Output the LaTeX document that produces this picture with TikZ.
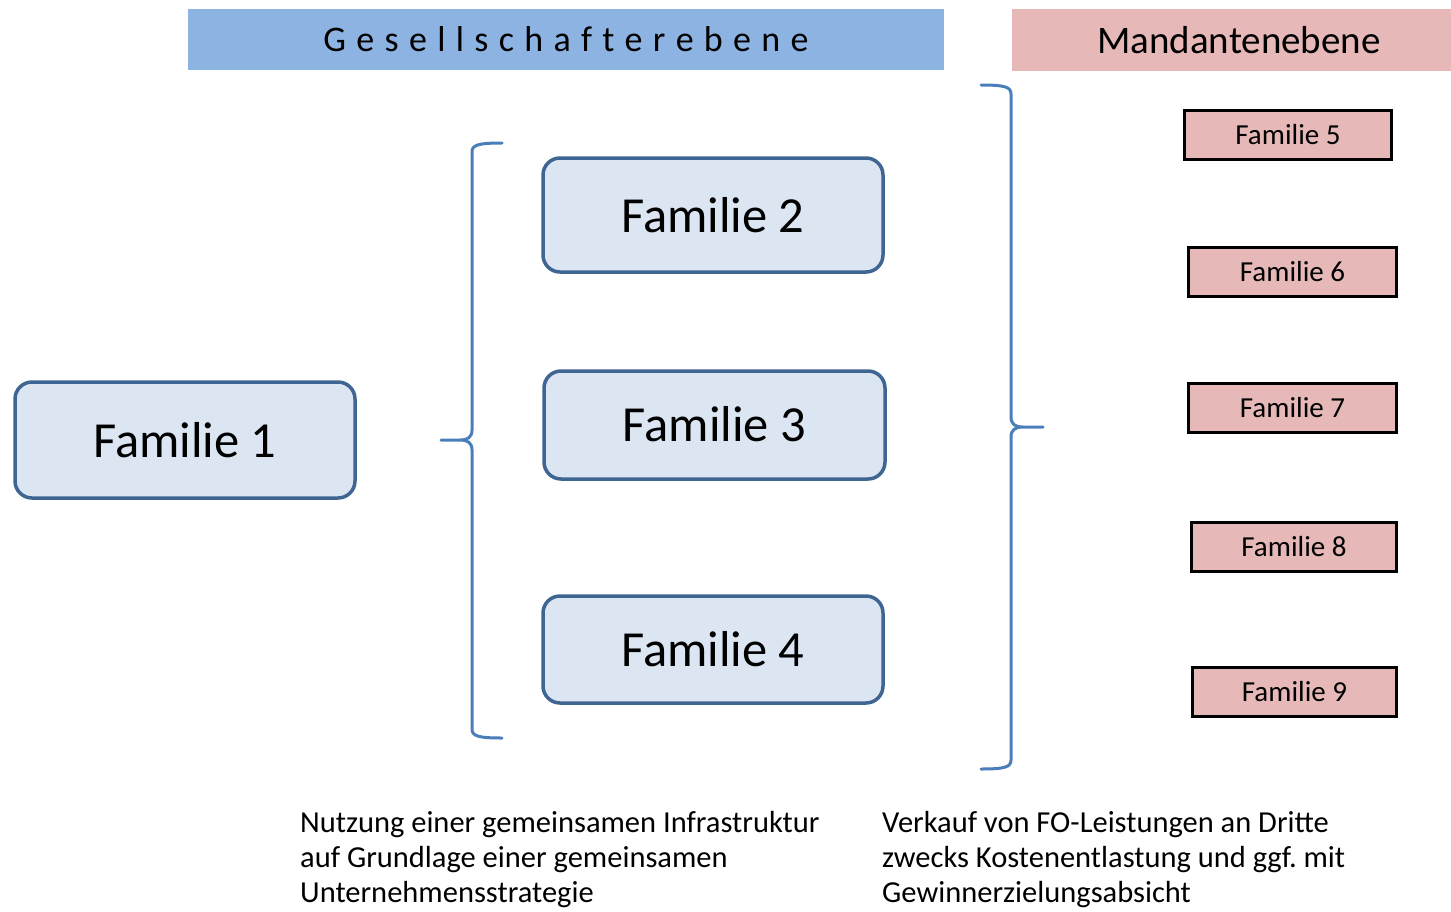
\documentclass[tikz,border=0pt]{standalone}
\usepackage{fontspec}
\setmainfont{Carlito}
\definecolor{headblue}{HTML}{8DB3E2}
\definecolor{headpink}{HTML}{E6B9B8}
\definecolor{boxfill}{HTML}{DCE6F2}
\definecolor{boxline}{HTML}{3F6592}
\definecolor{bracecol}{HTML}{4A7EBB}
\newcommand\lsp{\kern10.3pt}
\frenchspacing
\begin{document}
\begin{tikzpicture}[x=1pt,y=-1pt,
  bigbox/.style={draw=boxline, line width=3.5pt, fill=boxfill, rounded corners=17pt,
    minimum width=340pt, font=\fontsize{50.5}{60}\selectfont, inner sep=0pt},
  smallbox/.style={draw=black, line width=2.8pt, fill=headpink,
    minimum width=207pt, minimum height=49pt, font=\fontsize{29}{34}\selectfont, inner sep=0pt},
  bracepath/.style={draw=bracecol, line width=3pt, line cap=round, line join=round},
  note/.style={anchor=north west, align=left, inner sep=0pt,
    font=\fontsize{30.5}{35}\selectfont}]
\useasboundingbox (0,0) rectangle (1451,911);
% headers
\node[fill=headblue, minimum width=756pt, minimum height=61pt, inner sep=0pt,
  font=\fontsize{36}{40}\selectfont] (gesell) at (566,39.5)
  {G\lsp e\lsp s\lsp e\lsp l\lsp l\lsp s\lsp c\lsp h\lsp a\lsp f\lsp t\lsp e\lsp r\lsp e\lsp b\lsp e\lsp n\lsp e};
\fill[headpink] (1012,9) rectangle (1451,71);
\node[font=\fontsize{39}{44}\selectfont, inner sep=0pt] (mand) at (1239,40) {Mandantenebene};
% big boxes
\node[bigbox, minimum height=116pt] (f1) at (185,440) {Familie 1};
\node[bigbox, minimum height=114pt] (f2) at (713,215) {Familie 2};
\node[bigbox, minimum height=108pt, minimum width=341pt] (f3) at (714.5,425) {\raisebox{2pt}{Familie 3}};
\node[bigbox, minimum height=107pt] (f4) at (713,649.5) {Familie 4};
% small boxes
\node[smallbox] (f5) at (1288,135) {Familie 5};
\node[smallbox, minimum width=208pt] (f6) at (1292.5,272) {Familie 6};
\node[smallbox, minimum width=208pt] (f7) at (1292.5,408) {Familie 7};
\node[smallbox, minimum width=205pt] (f8) at (1294,547) {Familie 8};
\node[smallbox, minimum width=204pt] (f9) at (1294.5,692) {Familie 9};
% braces
\coordinate (lt) at (502,143);
\coordinate (lm) at (441,440);
\coordinate (lb) at (502,738);
\draw[bracepath] (lt) .. controls (478,143) and (472,145) .. (472,152)
  -- (472,430) .. controls (472,437) and (468,440) .. (460,440) -- (lm)
  (460,440) .. controls (468,440) and (472,443) .. (472,450)
  -- (472,729) .. controls (472,736) and (478,738) .. (lb);
\coordinate (rt) at (981,85);
\coordinate (rm) at (1043,427);
\coordinate (rb) at (981,769);
\draw[bracepath] (rt) .. controls (1005,85) and (1011,87) .. (1011,94)
  -- (1011,417) .. controls (1011,424) and (1015,427) .. (1023,427) -- (rm)
  (1023,427) .. controls (1015,427) and (1011,430) .. (1011,437)
  -- (1011,760) .. controls (1011,767) and (1005,769) .. (rb);
% notes
\node[note] (n1) at (300,811) {Nutzung einer gemeinsamen Infrastruktur\\auf Grundlage einer gemeinsamen\\Unternehmensstrategie};
\node[note] (n2) at (882,811) {Verkauf von FO-Leistungen an Dritte\\zwecks Kostenentlastung und ggf. mit\\Gewinnerzielungsabsicht};
\end{tikzpicture}
\end{document}
